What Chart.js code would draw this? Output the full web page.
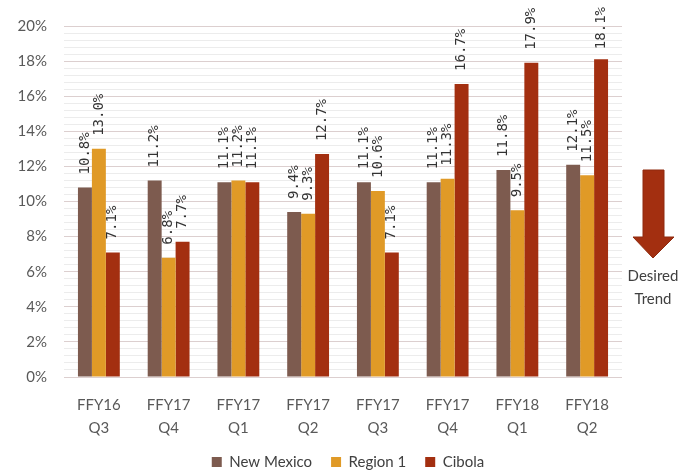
<!DOCTYPE html>
<html>
<head>
<meta charset="utf-8">
<script src="https://cdn.jsdelivr.net/npm/chart.js@4"></script>
<style>
  body { margin: 0; background: #fff; }
  #wrap { position: relative; width: 696px; height: 472px; }
  #trend { position: absolute; left: 613px; top: 168px; width: 80px; text-align: center; }
  #trend .txt { font: 15px Lato, sans-serif; color: #404040; line-height: 23px; margin-top: 0; }
</style>
</head>
<body>
<div id="wrap">
  <canvas id="chart" width="696" height="472"></canvas>
  <div id="trend">
    <svg width="80" height="92" viewBox="0 0 80 92">
      <polygon points="30,2 51,2 51,69 61,69 40,90 20,69 30,69" fill="#A32F10" stroke="#8f2a0e" stroke-width="1"/>
    </svg>
    <div class="txt">Desired<br>Trend</div>
  </div>
</div>
<script>
const quarters = [['FFY16', 'Q3'], ['FFY17', 'Q4'], ['FFY17', 'Q1'], ['FFY17', 'Q2'],
                  ['FFY17', 'Q3'], ['FFY17', 'Q4'], ['FFY18', 'Q1'], ['FFY18', 'Q2']];
const newMexico = [10.8, 11.2, 11.1, 9.4, 11.1, 11.1, 11.8, 12.1];
const region1 = [13.0, 6.8, 11.2, 9.3, 10.6, 11.3, 9.5, 11.5];
const cibola = [7.1, 7.7, 11.1, 12.7, 7.1, 16.7, 17.9, 18.1];

// rotated value labels above each bar
const barLabels = {
    id: 'barLabels',
    afterDatasetsDraw(chart) {
        const ctx = chart.ctx;
        ctx.save();
        ctx.font = '14px "DejaVu Sans Mono", monospace';
        ctx.fillStyle = '#333333';
        ctx.textAlign = 'left';
        ctx.textBaseline = 'middle';
        chart.data.datasets.forEach((ds, i) => {
            chart.getDatasetMeta(i).data.forEach((bar, j) => {
                const txt = ds.data[j].toFixed(1) + '%';
                const w = ctx.measureText(txt).width;
                let start = bar.y - 13;
                if (start - w < 7) start = 7 + w;
                ctx.save();
                ctx.translate(bar.x, start);
                ctx.rotate(-Math.PI / 2);
                ctx.fillText(txt, 0, 0);
                ctx.restore();
            });
        });
        ctx.restore();
    }
};

const ctx = document.getElementById('chart').getContext('2d');
const chart = new Chart(ctx, {
    type: 'bar',
    data: {
        labels: quarters,
        datasets: [
            { label: 'New Mexico', data: newMexico, backgroundColor: '#7D5B4F' },
            { label: 'Region 1', data: region1, backgroundColor: '#E09A27' },
            { label: 'Cibola', data: cibola, backgroundColor: '#A32F10' }
        ]
    },
    options: {
        responsive: false,
        animation: false,
        categoryPercentage: 0.6,
        barPercentage: 1.0,
        layout: { padding: { top: 20, left: 0, right: 0, bottom: -7.5 } },
        scales: {
            x: {
                grid: { display: false, drawTicks: false },
                border: { display: false },
                ticks: { color: '#595959', font: { family: 'Lato', size: 15, lineHeight: 1.5 }, padding: 17, maxRotation: 0, autoSkip: false },
                afterFit(s) { s.height = 58.5; }
            },
            y: {
                min: 0,
                max: 20,
                border: { display: false },
                grid: {
                    drawTicks: false,
                    color(c) { return Math.round(c.tick.value * 10) % 20 === 0 ? '#dccfcf' : '#ececec'; }
                },
                ticks: {
                    stepSize: 0.4,
                    autoSkip: false,
                    padding: 17,
                    color: '#595959',
                    font: { family: 'Lato', size: 15 },
                    callback(v) {
                        const r = Math.round(v * 10);
                        return r % 20 === 0 ? (r / 10) + '%' : '';
                    }
                },
                afterFit(s) { s.width = 64; }
            },
            y2: {
                position: 'right',
                grid: { display: false },
                border: { display: false },
                ticks: { display: false },
                afterFit(s) { s.width = 74; }
            }
        },
        plugins: {
            legend: {
                position: 'bottom',
                labels: {
                    boxWidth: 10,
                    boxHeight: 10,
                    padding: 19,
                    color: '#404040',
                    font: { family: 'Lato', size: 15 }
                }
            },
            tooltip: { enabled: false }
        }
    },
    plugins: [barLabels]
});
</script>
</body>
</html>
